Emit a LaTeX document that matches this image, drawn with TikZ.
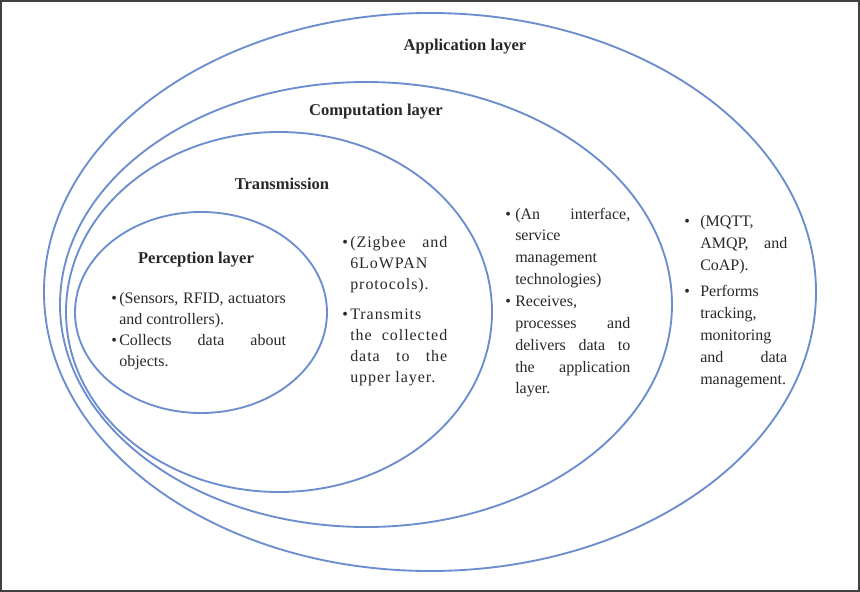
\documentclass[tikz,border=0pt]{standalone}
\usepackage{fontspec}
\setmainfont{Liberation Serif}
\newfontfamily\spacedfont[LetterSpace=6]{Liberation Serif}
\definecolor{ringc}{RGB}{108,142,206}
\definecolor{ink}{RGB}{40,40,40}
\newcommand{\bul}[1]{\noindent\hangindent=#1\hangafter=1\makebox[#1][l]{\textbullet}}
\begin{document}
\begin{tikzpicture}[x=0.75pt,y=-0.75pt,
  ring/.style={draw=ringc, line width=1.4pt},
  head/.style={font=\fontsize{12.4}{15}\selectfont\bfseries, text=ink, inner sep=0pt, anchor=center},
  body/.style={text=ink, inner sep=0pt, anchor=base west}
]
\useasboundingbox (0,0) rectangle (860,592);
\fill[white] (0,0) rectangle (860,592);
\draw[black!75, line width=1.5pt] (1,1) rectangle (859,591);

% layers
\draw[ring] (430,292) ellipse [x radius=386, y radius=279];
\draw[ring] (366,304.5) ellipse [x radius=306, y radius=222.5];
\draw[ring] (279,312) ellipse [x radius=213, y radius=180];
\draw[ring] (201,312.5) ellipse [x radius=126, y radius=100.5];

% headings
\node[head] (apphead) at (465,47) {Application layer};
\node[head] (comphead) at (376,112) {Computation layer};
\node[head] (transhead) at (282,184) {Transmission};
\node[head] (perchead) at (196,260) {Perception layer};

% perception text
\node[body] (perctext) at (111,303) {\parbox[t]{131pt}{\fontsize{12}{15.75}\selectfont
\bul{6pt}(Sensors, RFID, actuators\linebreak and controllers).\par
\bul{6pt}Collects data about\linebreak objects.\par}};

% transmission text
\node[body] (transtext) at (342,247) {\parbox[t]{78.75pt}{\spacedfont\fontsize{12}{15.75}\selectfont
\bul{6pt}(Zigbee and\linebreak 6LoWPAN\\ protocols).\par
\vspace{6.75pt}
\bul{6pt}Transmits\\ the collected\linebreak data to the\linebreak upper layer.\par}};

% computation text
\node[body] (comptext) at (505,219) {\parbox[t]{93.75pt}{\fontsize{12}{16.4}\selectfont
\bul{7.5pt}(An interface,\linebreak service\\ management\\ technologies)\par
\bul{7.5pt}Receives,\\ processes and\linebreak delivers data to\linebreak the application\linebreak layer.\par}};

% application text
\node[body] (apptext) at (684,226) {\parbox[t]{77.25pt}{\fontsize{12}{16.5}\selectfont
\bul{12pt}(MQTT,\\ AMQP, and\linebreak CoAP).\par
\vspace{3pt}
\bul{12pt}Performs\\ tracking,\\ monitoring\\ and data\linebreak management.\par}};
\end{tikzpicture}
\end{document}
